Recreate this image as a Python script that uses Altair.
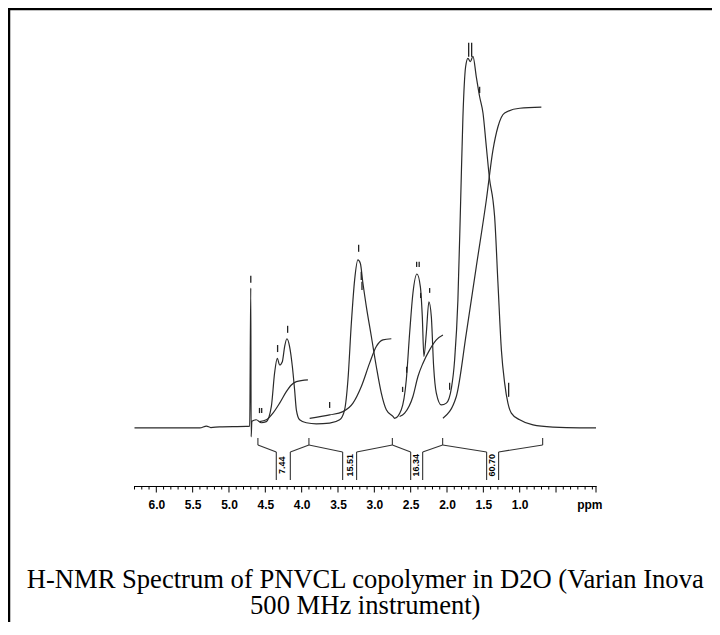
import altair as alt
import pandas as pd

# ---- spectrum (ppm, intensity; baseline = 0, tallest peak ~ 100) ----
spec_ppm = [6.30, 5.40, 5.31, 5.25, 5.13, 4.76, 4.715, 4.70, 4.695, 4.685, 4.625, 4.555, 4.486, 4.417,
            4.372, 4.335, 4.303, 4.266, 4.234, 4.203, 4.166, 4.128, 4.097, 4.073, 4.028, 3.936, 3.798,
            3.615, 3.477, 3.409, 3.363, 3.316, 3.271, 3.226, 3.193, 3.157, 3.110, 3.041, 2.973, 2.904,
            2.835, 2.744, 2.721, 2.629, 2.560, 2.514, 2.469, 2.414, 2.367, 2.340, 2.318, 2.285, 2.249,
            2.216, 2.184, 2.147, 2.078, 2.009, 1.940, 1.895, 1.850, 1.812, 1.781, 1.744, 1.712, 1.679,
            1.643, 1.597, 1.551, 1.505, 1.459, 1.413, 1.368, 1.345, 1.299, 1.252, 1.207, 1.162, 1.115,
            1.000, 0.817, 0.542, 0.175, -0.05]
spec_int = [0, 0, 0.5, 0.1, 0.3, 0.4, 0.5, 37.8, -2.4, 1.8, 2.2, 1.4, 1.7, 5.8,
            14.9, 18.8, 17.0, 17.9, 22.0, 24.1, 22.0, 16.6, 10.3, 4.9, 2.2, 1.4, 1.1,
            1.3, 2.2, 4.9, 13.0, 28.4, 40.0, 45.4, 44.5, 39.1, 32.8, 24.7, 16.6, 9.4,
            4.9, 3.1, 2.6, 4.9, 13.0, 25.7, 36.4, 41.6, 38.2, 30.1, 19.3, 25.6, 34.1,
            30.1, 16.6, 9.4, 6.2, 6.7, 10.7, 18.4, 34.6, 61.6, 84.1, 97.6, 99.9, 99.0,
            100.4, 94.9, 89.5, 85.1, 76.0, 67.0, 61.6, 57.1, 39.1, 21.1, 12.1, 6.7, 4.0,
            2.2, 0.8, 0.2, 0.0, 0.0]

# ---- integral curves ----
int1_ppm = [4.578, 4.486, 4.395, 4.303, 4.211, 4.142, 4.073, 3.914]
int1_val = [1.7, 2.2, 4.0, 6.7, 9.8, 11.6, 12.5, 13.0]
int2_ppm = [3.890, 3.615, 3.432, 3.294, 3.179, 3.065, 2.973, 2.882, 2.766]
int2_val = [2.6, 3.5, 4.4, 6.7, 11.2, 17.5, 22.0, 23.8, 24.1]
int3_ppm = [2.652, 2.583, 2.469, 2.400, 2.331, 2.239, 2.147, 2.056]
int3_val = [3.1, 4.0, 8.5, 13.9, 17.5, 21.1, 23.8, 25.1]
int4_ppm = [2.056, 1.872, 1.734, 1.597, 1.459, 1.368, 1.299, 1.207, 1.000, 0.702]
int4_val = [2.6, 8.5, 25.6, 43.6, 61.6, 75.1, 81.4, 85.1, 86.4, 86.7]

# ---- integral bracket ----
region_bounds = [4.602, 3.900, 2.752, 2.060, 0.684]
box_left = [4.349, 3.436, 2.500, 1.455]
box_right = [4.156, 3.244, 2.335, 1.290]
integral_labels = ["7.44", "15.51", "16.34", "60.70"]
label_ppm = [4.27, 3.34, 2.42, 1.38]
label_level = -10.1
tick_top, edge_level, box_top, box_bottom = -2.7, -4.6, -6.5, -14.05

# ---- peak markers ----
mk_ppm = [4.70, 4.58, 4.55, 4.331, 4.193, 3.615, 3.216, 3.18, 3.17, 2.611, 2.555, 2.418, 2.383,
          2.363, 2.239, 1.964, 1.702, 1.661, 1.551, 1.152]
mk_lo = [39.2, 4.0, 4.0, 20.5, 25.7, 5.4, 47.6, 40.0, 37.3, 9.7, 14.9, 43.5, 43.5,
         35.1, 36.5, 10.3, 100.3, 100.3, 90.5, 8.4]
mk_hi = [41.1, 5.4, 5.4, 22.4, 27.6, 7.0, 49.5, 42.2, 39.5, 11.1, 16.5, 44.9, 44.9,
         36.5, 37.8, 12.2, 104.1, 104.1, 92.2, 12.2]

# ---- axis ----
minor_ticks = [6.3, 6.2, 6.1, 5.9, 5.8, 5.7, 5.6, 5.4, 5.3, 5.2, 5.1, 4.9, 4.8, 4.7,
               4.6, 4.4, 4.3, 4.2, 4.1, 3.9, 3.8, 3.7, 3.6, 3.4, 3.3, 3.2, 3.1,
               2.9, 2.8, 2.7, 2.6, 2.4, 2.3, 2.2, 2.1, 1.9, 1.8, 1.7, 1.6, 1.4, 1.3,
               1.2, 1.1, 0.9, 0.8, 0.7, 0.6, 0.4, 0.3, 0.2, 0.1, 0.0]
major_ticks = [6.0, 5.5, 5.0, 4.5, 4.0, 3.5, 3.0, 2.5, 2.0, 1.5, 1.0, 0.5, -0.05]
label_values = [6.0, 5.5, 5.0, 4.5, 4.0, 3.5, 3.0, 2.5, 2.0, 1.5, 1.0]
caption = ["H-NMR Spectrum of PNVCL copolymer in D2O (Varian Inova", "500 MHz instrument)"]

W, H = 461.5, 444
PL, PT, PR, PB = 126.5, 34, 116, 136

xscale = alt.Scale(domain=[-0.05, 6.3], reverse=True, nice=False, zero=False)
yscale = alt.Scale(domain=[-15.7, 104.3], nice=False, zero=False)

spec_df = pd.DataFrame({"ppm": spec_ppm, "val": spec_int, "i": list(range(len(spec_ppm)))})
rows = []
for k, (pp, vv) in enumerate([(int1_ppm, int1_val), (int2_ppm, int2_val),
                              (int3_ppm, int3_val), (int4_ppm, int4_val)]):
    for j, (p, v) in enumerate(zip(pp, vv)):
        rows.append({"ppm": p, "val": v, "s": k, "i": j})
int_df = pd.DataFrame(rows)

segs = []
for i in range(4):
    segs.append((region_bounds[i], edge_level, box_left[i], box_top))
    segs.append((box_left[i], box_top, box_left[i], box_bottom))
    segs.append((box_right[i], box_bottom, box_right[i], box_top))
    segs.append((box_right[i], box_top, region_bounds[i + 1], edge_level))
for b in region_bounds:
    segs.append((b, edge_level, b, tick_top))
seg_rows = []
for n, (x1, y1, x2, y2) in enumerate(segs):
    seg_rows.append({"ppm": x1, "val": y1, "seg": n, "i": 0})
    seg_rows.append({"ppm": x2, "val": y2, "seg": n, "i": 1})
seg_df = pd.DataFrame(seg_rows)
lab_df = pd.DataFrame({"ppm": label_ppm, "val": [label_level] * 4, "t": integral_labels})
mk_df = pd.DataFrame({"ppm": mk_ppm, "lo": mk_lo, "hi": mk_hi})
minor_df = pd.DataFrame({"ppm": minor_ticks})
major_df = pd.DataFrame({"ppm": major_ticks})
one_df = pd.DataFrame({"k": [0]})

axis = alt.Axis(
    values=label_values, format=".1f", ticks=False,
    domainColor="black", domainWidth=1.2,
    labelFont="Liberation Sans", labelFontWeight="bold", labelFontSize=12,
    labelColor="black", labelPadding=13,
    labelOverlap=False, labelFlush=False, grid=False,
    title="ppm", titleFont="Liberation Sans", titleFontWeight="bold", titleFontSize=12,
    titleColor="black", titleAngle=0, titleAlign="right", titleBaseline="top",
    titleX=467.5, titleY=13,
)


def xs(field="ppm"):
    return alt.X(field + ":Q", scale=xscale, axis=axis)


def ys(field="val"):
    return alt.Y(field + ":Q", scale=yscale, axis=None)


spectrum = alt.Chart(spec_df).mark_line(color="#2a2a2a", strokeWidth=1.2, interpolate="monotone").encode(
    x=xs(), y=ys(), order="i:Q",
)
integrals = alt.Chart(int_df).mark_line(color="#2a2a2a", strokeWidth=1.2, interpolate="monotone").encode(
    x=xs(), y=ys(), detail="s:N", order="i:Q",
)
bracket = alt.Chart(seg_df).mark_line(color="#333333", strokeWidth=1.1).encode(
    x=xs(), y=ys(), detail="seg:N", order="i:Q",
)
labels = alt.Chart(lab_df).mark_text(angle=270, font="Liberation Sans", fontWeight="bold",
                                     fontSize=9, color="black", align="center",
                                     baseline="middle").encode(
    x=xs(), y=ys(), text="t:N",
)
markers = alt.Chart(mk_df).mark_rule(color="#222222", strokeWidth=1.3).encode(
    x=xs(), y=ys("lo"), y2="hi:Q",
)
minor = alt.Chart(minor_df).mark_rule(color="black", strokeWidth=1).encode(
    x=xs(), y=alt.value(H), y2=alt.value(H + 3.5)
)
major = alt.Chart(major_df).mark_rule(color="black", strokeWidth=1).encode(
    x=xs(), y=alt.value(H), y2=alt.value(H + 6.5)
)
frame_left = alt.Chart(one_df).mark_rule(color="black", strokeWidth=2.5).encode(
    x=alt.value(-PL + 1), y=alt.value(-PT + 1), y2=alt.value(H + PB)
)
frame_top = alt.Chart(one_df).mark_rule(color="black", strokeWidth=2.5).encode(
    x=alt.value(-PL), x2=alt.value(W + PR), y=alt.value(-PT + 1)
)
cap1 = alt.Chart(one_df).mark_text(text=caption[0], font="Liberation Serif", fontSize=26.6,
                                   fontWeight="normal", color="black", align="center",
                                   baseline="alphabetic").encode(
    x=alt.value(W / 2), y=alt.value(546)
)
cap2 = alt.Chart(one_df).mark_text(text=caption[1], font="Liberation Serif", fontSize=26.6,
                                   fontWeight="normal", color="black", align="center",
                                   baseline="alphabetic").encode(
    x=alt.value(W / 2), y=alt.value(572)
)

chart = alt.layer(spectrum, integrals, bracket, labels, markers, minor, major,
                  frame_left, frame_top, cap1, cap2).properties(
    width=W, height=H,
    autosize=alt.AutoSizeParams(type="none"),
    padding={"left": PL, "top": PT, "right": PR, "bottom": PB},
).configure_view(stroke=None)

chart.save("out.html", embed_options={"renderer": "svg", "actions": False})
